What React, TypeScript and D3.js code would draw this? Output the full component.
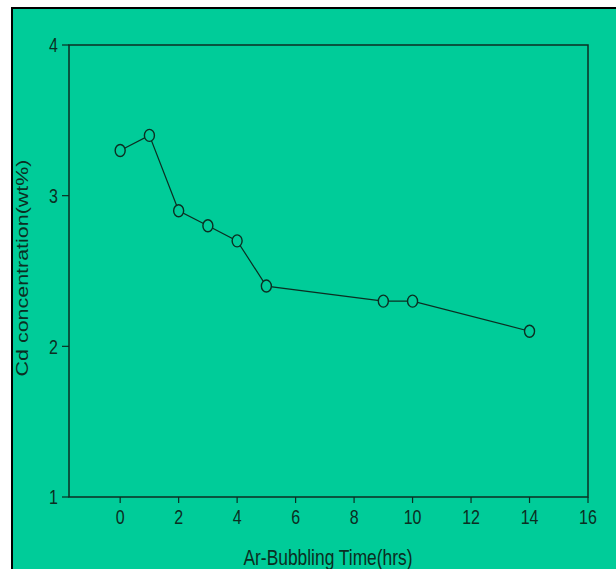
import React from 'react';
import * as d3 from 'd3';

const hours = [0, 1, 2, 3, 4, 5, 9, 10, 14];
const cdWt = [3.3, 3.4, 2.9, 2.8, 2.7, 2.4, 2.3, 2.3, 2.1];
const xTicks = [0, 2, 4, 6, 8, 10, 12, 14, 16];
const yTicks = [1, 2, 3, 4];

const W = 616;
const H = 569;
const bg = '#00CC99';
const ink = '#0b2e22';
const font = '"Liberation Sans", Arial, sans-serif';
const stretch = 1.3;

function App() {
  const left = 69, right = 588, top = 45, bottom = 497;

  const x = d3.scaleLinear().domain([-1.75, 16]).range([left, right]);
  const y = d3.scaleLinear().domain([1, 4]).range([bottom, top]);

  const pts = hours.map((h, i) => [h, cdWt[i]] as [number, number]);
  const line = d3.line<[number, number]>()
    .x(d => x(d[0]))
    .y(d => y(d[1]));

  return (
    <svg width={W} height={H} style={{ position: 'absolute', left: 0, top: 0 }}>
      <rect x={0} y={0} width={W} height={H} fill="#fff" />
      <rect x={12} y={8} width={W} height={H} fill={bg} stroke="#000" strokeWidth={2} />

      {/* plot frame */}
      <rect x={left} y={top} width={right - left} height={bottom - top}
        fill="none" stroke={ink} strokeWidth={1.5} />

      {/* y axis */}
      {yTicks.map(t => (
        <g key={'y' + t}>
          <line x1={left - 7} x2={left} y1={y(t)} y2={y(t)} stroke={ink} strokeWidth={1.2} />
          <text transform={`translate(${left - 11},${y(t)}) scale(1,${stretch})`}
            textAnchor="end" dy="0.36em" fontSize={16} fontFamily={font} fill={ink}>{t}</text>
        </g>
      ))}

      {/* x axis */}
      {xTicks.map(t => (
        <g key={'x' + t}>
          <line x1={x(t)} x2={x(t)} y1={bottom} y2={bottom + 6} stroke={ink} strokeWidth={1.2} />
          <text transform={`translate(${x(t)},${bottom + 27}) scale(1,${stretch})`}
            textAnchor="middle" fontSize={16} fontFamily={font} fill={ink}>{t}</text>
        </g>
      ))}

      <text transform={`translate(328,565) scale(1,${stretch})`} textAnchor="middle"
        fontSize={17.4} fontFamily={font} fill={ink}>Ar-Bubbling Time(hrs)</text>

      <text transform={`translate(28,268) rotate(-90) scale(${stretch},1)`} textAnchor="middle"
        fontSize={16.5} fontFamily={font} fill={ink}>Cd concentration(wt%)</text>

      <path d={line(pts) || ''} fill="none" stroke={ink} strokeWidth={1.2} />
      {pts.map((d, i) => (
        <ellipse key={i} cx={x(d[0])} cy={y(d[1])} rx={5} ry={6}
          fill={bg} stroke={ink} strokeWidth={1.4} />
      ))}
    </svg>
  );
}

export default App;
